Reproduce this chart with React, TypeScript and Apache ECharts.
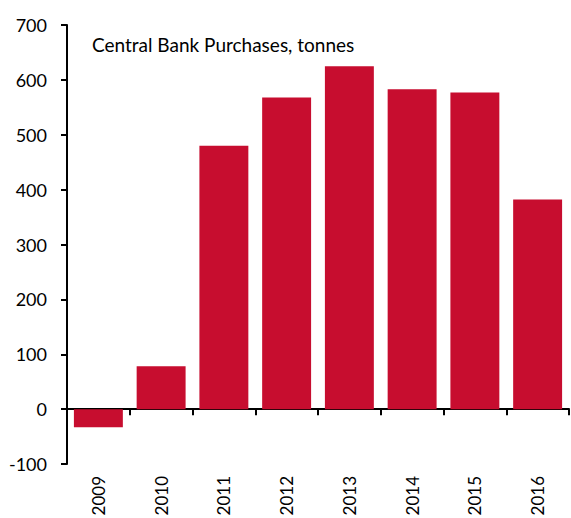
import React, { useEffect, useRef } from "react";
import * as echarts from "echarts";

const categories = ["2009", "2010", "2011", "2012", "2013", "2014", "2015", "2016"];
const purchases = [-33, 78, 480, 568, 625, 583, 577, 382];
const yTicks = { min: -100, max: 700, interval: 100 };
const titleText = "Central Bank Purchases, tonnes";

const FONT = "Lato, 'Noto Sans', sans-serif";

export default function App() {
  const ref = useRef<HTMLDivElement>(null);
  useEffect(() => {
    document.body.style.margin = "0";
    const chart = echarts.init(ref.current!, null, { renderer: "svg" });
    chart.setOption({
      animation: false,
      textStyle: { fontFamily: FONT },
      grid: { left: 67, right: 2, top: 25, bottom: 54, containLabel: false, outerBoundsMode: "none" },
      graphic: [
        {
          type: "text",
          left: 92,
          top: 35,
          style: { text: titleText, fontFamily: FONT, fontSize: 19, fill: "#000" },
        },
      ],
      xAxis: [
        {
          type: "category",
          data: categories,
          axisLine: { onZero: true, lineStyle: { color: "#000", width: 2 } },
          axisTick: { show: true, length: 6, lineStyle: { color: "#000", width: 2 } },
          axisLabel: { show: false },
          splitLine: { show: false },
        },
        {
          type: "category",
          data: categories,
          position: "bottom",
          axisLine: { show: false, onZero: false },
          axisTick: { show: false },
          axisLabel: { rotate: 90, margin: 12, color: "#000", fontSize: 17, fontFamily: FONT },
          splitLine: { show: false },
        },
      ],
      yAxis: {
        type: "value",
        min: yTicks.min,
        max: yTicks.max,
        interval: yTicks.interval,
        axisLine: { show: true, lineStyle: { color: "#000", width: 2 } },
        axisTick: { show: true, length: 6, lineStyle: { color: "#000", width: 2 } },
        axisLabel: { margin: 20, color: "#000", fontSize: 18, fontFamily: FONT },
        splitLine: { show: false },
      },
      series: [
        {
          type: "bar",
          xAxisIndex: 0,
          data: purchases,
          barCategoryGap: "22%",
          itemStyle: { color: "#C70D2F" },
        },
      ],
    });
    return () => chart.dispose();
  }, []);
  return <div ref={ref} style={{ width: 571, height: 518 }} />;
}
